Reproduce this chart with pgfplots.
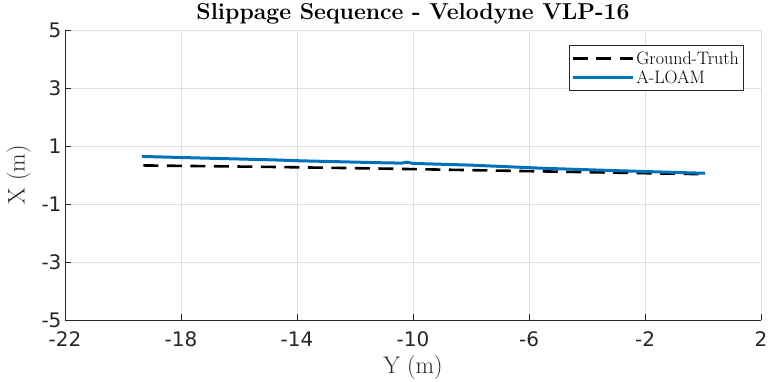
\documentclass[border=0pt]{standalone}
\usepackage{fontspec}
\usepackage{pgfplots}
\pgfplotsset{compat=1.18}
\newfontfamily\tickfont{DejaVu Sans}
\definecolor{mblue}{RGB}{0,114,189}
\definecolor{gridc}{RGB}{223,223,223}
\definecolor{axc}{RGB}{38,38,38}
\begin{document}
\begin{tikzpicture}
\begin{axis}[
  scale only axis, width=696pt, height=290pt,
  xmin=-22, xmax=2, ymin=-5, ymax=5,
  xtick={-22,-18,...,2}, ytick={-5,-3,...,5},
  axis lines*=left, axis line style={axc, line width=0.7pt},
  tick align=inside, major tick length=6pt, tick style={axc, line width=0.7pt},
  grid=major, grid style={gridc, line width=0.7pt},
  ticklabel style={font=\tickfont\fontsize{20}{23}\selectfont, text=axc},
  xticklabel style={yshift=-8pt},
  /pgf/number format/assume math mode=true,
  xlabel={Y (m)}, ylabel={X (m)},
  label style={font=\fontsize{24}{27}\selectfont, text=axc},
  xlabel style={yshift=-2pt},
  ylabel style={yshift=4pt},
  title={Slippage Sequence - Velodyne VLP-16},
  title style={font=\bfseries\fontsize{23}{26}\selectfont, yshift=-4pt},
  legend style={at={(0.9745,0.948)}, anchor=north east, font=\fontsize{18}{21}\selectfont,
    draw=axc, line width=0.7pt, inner xsep=2pt, inner ysep=4pt, row sep=1pt},
  legend cell align=left,
  legend image code/.code={\draw[#1] (0pt,0pt) -- (60pt,0pt);},
]
\addplot[black, line width=2.6pt, dash pattern=on 15pt off 8.5pt] coordinates {
(-19.3,0.33) (-15,0.28) (-11,0.22) (-7,0.15) (-3,0.08) (-0.1,0.03)
};
\addlegendentry{Ground-Truth}
\addplot[mblue, line width=3pt] coordinates {
(-19.35,0.64) (-17.5,0.59) (-14.77,0.52) (-13.9,0.49) (-11,0.42) (-10.4,0.41) (-10.2,0.44) (-10.0,0.40) (-8,0.34) (-5.47,0.23) (-3,0.15) (-1,0.09) (0.07,0.06)
};
\addlegendentry{A-LOAM}
\end{axis}
\pgfresetboundingbox
\path ([shift={(-65pt,-62pt)}]current axis.south west) rectangle ([shift={(8pt,30pt)}]current axis.north east);
\end{tikzpicture}
\end{document}
